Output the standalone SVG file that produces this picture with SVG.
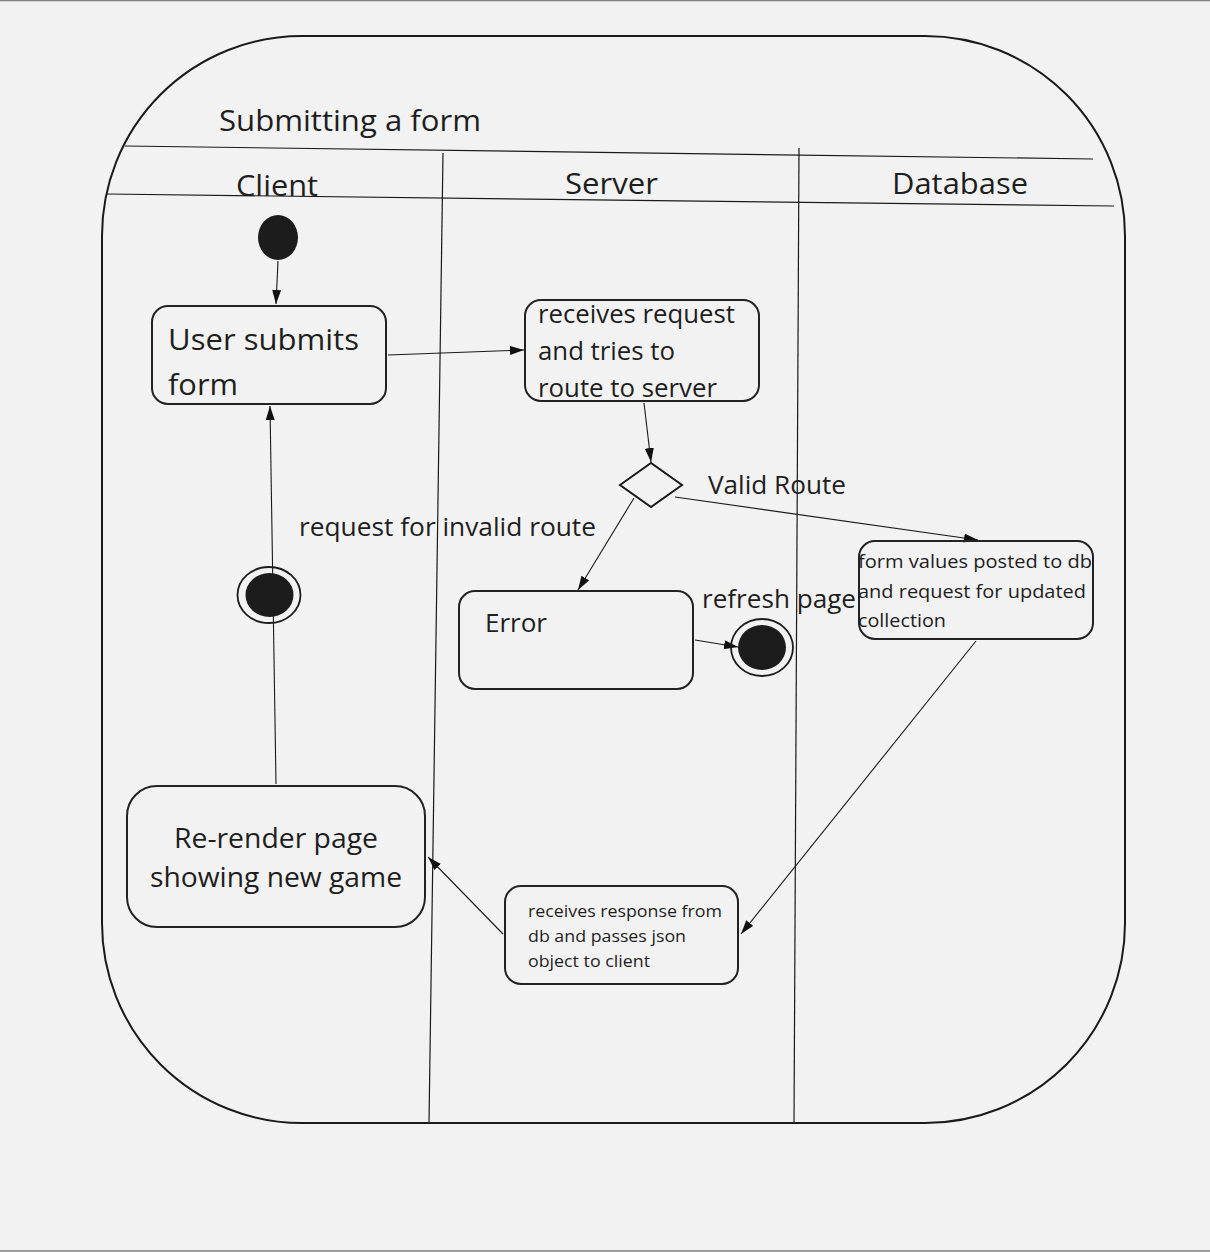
<svg xmlns="http://www.w3.org/2000/svg" width="1210" height="1252" viewBox="0 0 1210 1252">
<style>
.t{font-family:"Open Sans","Noto Sans","Liberation Sans",sans-serif;fill:#1e1e1e}
.box{fill:none;stroke:#222;stroke-width:2}
.lane{stroke:#1a1a1a;stroke-width:1.2;fill:none}
.c{stroke:#1a1a1a;stroke-width:1.1;fill:none;marker-end:url(#ah)}
.dot{fill:#1c1c1c}
.ring{fill:none;stroke:#1c1c1c;stroke-width:1.8}
</style>
<defs>
<marker id="ah" markerUnits="userSpaceOnUse" markerWidth="16" markerHeight="10" refX="14" refY="4.5" orient="auto">
<path d="M0,0 L14,4.5 L0,9 Z" fill="#111"/>
</marker>
</defs>
<rect x="0" y="0" width="1210" height="1252" fill="#f2f2f2"/>
<line x1="0" y1="0.5" x2="1210" y2="0.5" stroke="#808080" stroke-width="1.5"/>
<line x1="0" y1="1251" x2="1210" y2="1251" stroke="#808080" stroke-width="1.5"/>

<g id="frame">
<rect x="102" y="36" width="1023" height="1087" rx="200" ry="200" fill="none" stroke="#1a1a1a" stroke-width="2"/>
<line class="lane" x1="125" y1="146" x2="1093" y2="159"/>
<line class="lane" x1="107" y1="194" x2="1114" y2="206"/>
<line class="lane" x1="443" y1="153" x2="429" y2="1123"/>
<line class="lane" x1="799" y1="148" x2="794" y2="1123"/>
<text class="t" x="219" y="131" font-size="30" textLength="262" lengthAdjust="spacingAndGlyphs">Submitting a form</text>
<text class="t" x="236" y="196" font-size="30" textLength="82" lengthAdjust="spacingAndGlyphs">Client</text>
<text class="t" x="565" y="194" font-size="30" textLength="93" lengthAdjust="spacingAndGlyphs">Server</text>
<text class="t" x="892" y="194" font-size="30" textLength="136" lengthAdjust="spacingAndGlyphs">Database</text>
</g>

<g id="connectors">
<line class="c" x1="278" y1="261" x2="276" y2="304"/>
<line class="c" x1="388" y1="355" x2="524" y2="350"/>
<line class="c" x1="644" y1="403" x2="651" y2="462"/>
<line class="c" x1="675" y1="497" x2="978" y2="540"/>
<line class="c" x1="634" y1="498" x2="578" y2="590"/>
<line class="c" x1="695" y1="640" x2="738" y2="647"/>
<line class="c" x1="976" y1="641" x2="741" y2="934"/>
<line class="c" x1="503" y1="934" x2="428" y2="857"/>
<line class="c" x1="276" y1="784" x2="270" y2="406"/>
<text class="t" x="708" y="494" font-size="26" textLength="138" lengthAdjust="spacingAndGlyphs">Valid Route</text>
<text class="t" x="299" y="536" font-size="26" textLength="297" lengthAdjust="spacingAndGlyphs">request for invalid route</text>
<text class="t" x="702" y="608" font-size="26" textLength="154" lengthAdjust="spacingAndGlyphs">refresh page</text>
</g>

<g id="start">
<ellipse class="dot" cx="278" cy="237.5" rx="20" ry="22.5"/>
</g>

<g id="user-submits">
<rect class="box" x="152" y="306" width="234" height="98" rx="16"/>
<text class="t" x="168" y="350" font-size="30" textLength="191" lengthAdjust="spacingAndGlyphs">User submits</text>
<text class="t" x="168" y="395" font-size="30" textLength="70" lengthAdjust="spacingAndGlyphs">form</text>
</g>

<g id="receives-request">
<rect class="box" x="525" y="300" width="234" height="101" rx="16"/>
<text class="t" x="538" y="323" font-size="25" textLength="197" lengthAdjust="spacingAndGlyphs">receives request</text>
<text class="t" x="538" y="360" font-size="25" textLength="137" lengthAdjust="spacingAndGlyphs">and tries to</text>
<text class="t" x="538" y="397" font-size="25" textLength="179" lengthAdjust="spacingAndGlyphs">route to server</text>
</g>

<g id="decision">
<polygon points="620,485 651,463 682,485 651,507" fill="none" stroke="#1a1a1a" stroke-width="2"/>
</g>

<g id="error">
<rect class="box" x="459" y="591" width="234" height="98" rx="16"/>
<text class="t" x="485" y="632" font-size="26" textLength="62" lengthAdjust="spacingAndGlyphs">Error</text>
</g>

<g id="end-refresh">
<ellipse class="ring" cx="762" cy="647.5" rx="31" ry="28.5"/>
<ellipse class="dot" cx="762" cy="647.5" rx="24" ry="22.5"/>
</g>

<g id="form-values">
<rect class="box" x="859" y="541" width="234" height="98" rx="16"/>
<text class="t" x="858" y="568" font-size="19" textLength="234" lengthAdjust="spacingAndGlyphs">form values posted to db</text>
<text class="t" x="858" y="598" font-size="19" textLength="228" lengthAdjust="spacingAndGlyphs">and request for updated</text>
<text class="t" x="858" y="627" font-size="19" textLength="88" lengthAdjust="spacingAndGlyphs">collection</text>
</g>

<g id="receives-response">
<rect class="box" x="505" y="886" width="233" height="98" rx="16"/>
<text class="t" x="528" y="917" font-size="17" textLength="194" lengthAdjust="spacingAndGlyphs">receives response from</text>
<text class="t" x="528" y="942" font-size="17" textLength="158" lengthAdjust="spacingAndGlyphs">db and passes json</text>
<text class="t" x="528" y="967" font-size="17" textLength="122" lengthAdjust="spacingAndGlyphs">object to client</text>
</g>

<g id="re-render">
<rect class="box" x="127" y="786" width="298" height="141" rx="30"/>
<text class="t" x="174" y="848" font-size="28" textLength="204" lengthAdjust="spacingAndGlyphs">Re-render page</text>
<text class="t" x="150" y="887" font-size="28" textLength="252" lengthAdjust="spacingAndGlyphs">showing new game</text>
</g>

<g id="end-client">
<ellipse class="ring" cx="269" cy="595" rx="31.5" ry="28"/>
<ellipse class="dot" cx="269.5" cy="595" rx="24" ry="22"/>
</g>
</svg>
